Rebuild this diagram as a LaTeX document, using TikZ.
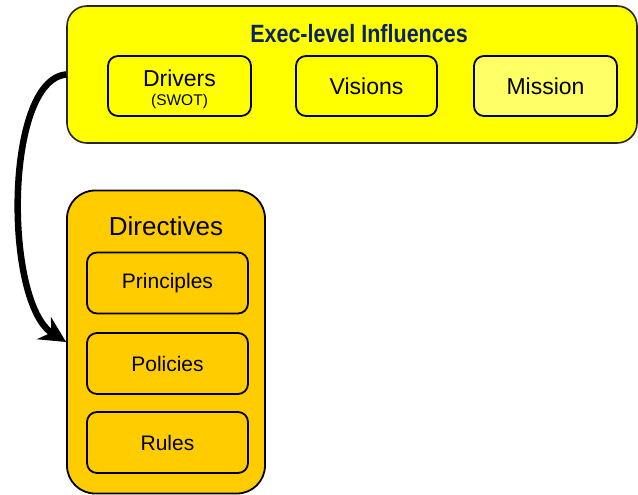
\documentclass[tikz,border=0pt]{standalone}
\usepackage{fontspec}
\setmainfont{Liberation Sans}
\newfontfamily\narrowfont[FakeStretch=0.86]{Liberation Sans}
\usetikzlibrary{arrows.meta}
\definecolor{topyellow}{HTML}{FFFF00}
\definecolor{lightyellow}{HTML}{FFFF66}
\definecolor{gold}{HTML}{FFCC00}
\definecolor{navy}{HTML}{0A2463}
\tikzset{
  outerbox/.style={draw=black!85, line width=1.6pt, rounded corners=20pt, inner sep=0pt},
  innerbox/.style={draw=black, line width=1.8pt, rounded corners=10pt, inner sep=0pt,
    font=\fontsize{23}{27}\selectfont, align=center},
  dirbox/.style={draw=black, line width=1.8pt, rounded corners=10pt, inner sep=0pt,
    fill=gold, minimum width=161pt, minimum height=61pt, font=\fontsize{21}{25}\selectfont},
  bigarrow/.style={line width=6.5pt, -{Stealth[length=26pt, width=26pt]}}
}
\begin{document}
\begin{tikzpicture}[x=1pt, y=-1pt]
\useasboundingbox (0,0) rectangle (638,495);
% top box
\node[outerbox, fill=topyellow, minimum width=570pt, minimum height=137pt] (top) at (352,74.5) {};
\node[font=\narrowfont\bfseries\fontsize{25}{29}\selectfont, text=navy] (title) at (359,34) {Exec-level Influences};
\node[innerbox, fill=topyellow, minimum width=143pt, minimum height=60pt] (drivers) at (179.5,86) {};
\node[font=\fontsize{23}{27}\selectfont] (drvtext) at (179.5,78) {Drivers};
\node[font=\fontsize{15.5}{18}\selectfont] (swot) at (179.5,101) {(SWOT)};
\node[innerbox, fill=topyellow, minimum width=141pt, minimum height=60pt] (visions) at (366.5,86) {Visions};
\node[innerbox, fill=lightyellow, minimum width=143pt, minimum height=60pt] (mission) at (545.5,86) {Mission};
% directives box
\node[outerbox, draw=black, line width=1.8pt, rounded corners=28pt, fill=gold, minimum width=198pt, minimum height=303pt] (dir) at (166,342) {};
\node[font=\fontsize{26}{30}\selectfont] (dirtitle) at (166,226) {Directives};
\node[dirbox] (principles) at (167.5,283) {Principles};
\node[dirbox] (policies) at (167.5,363.5) {Policies};
\node[dirbox] (rules) at (167.5,442.5) {Rules};
% arrow
\draw[bigarrow] (top.west) .. controls (4,80) and (4,303) .. (dir.west);
\end{tikzpicture}
\end{document}
